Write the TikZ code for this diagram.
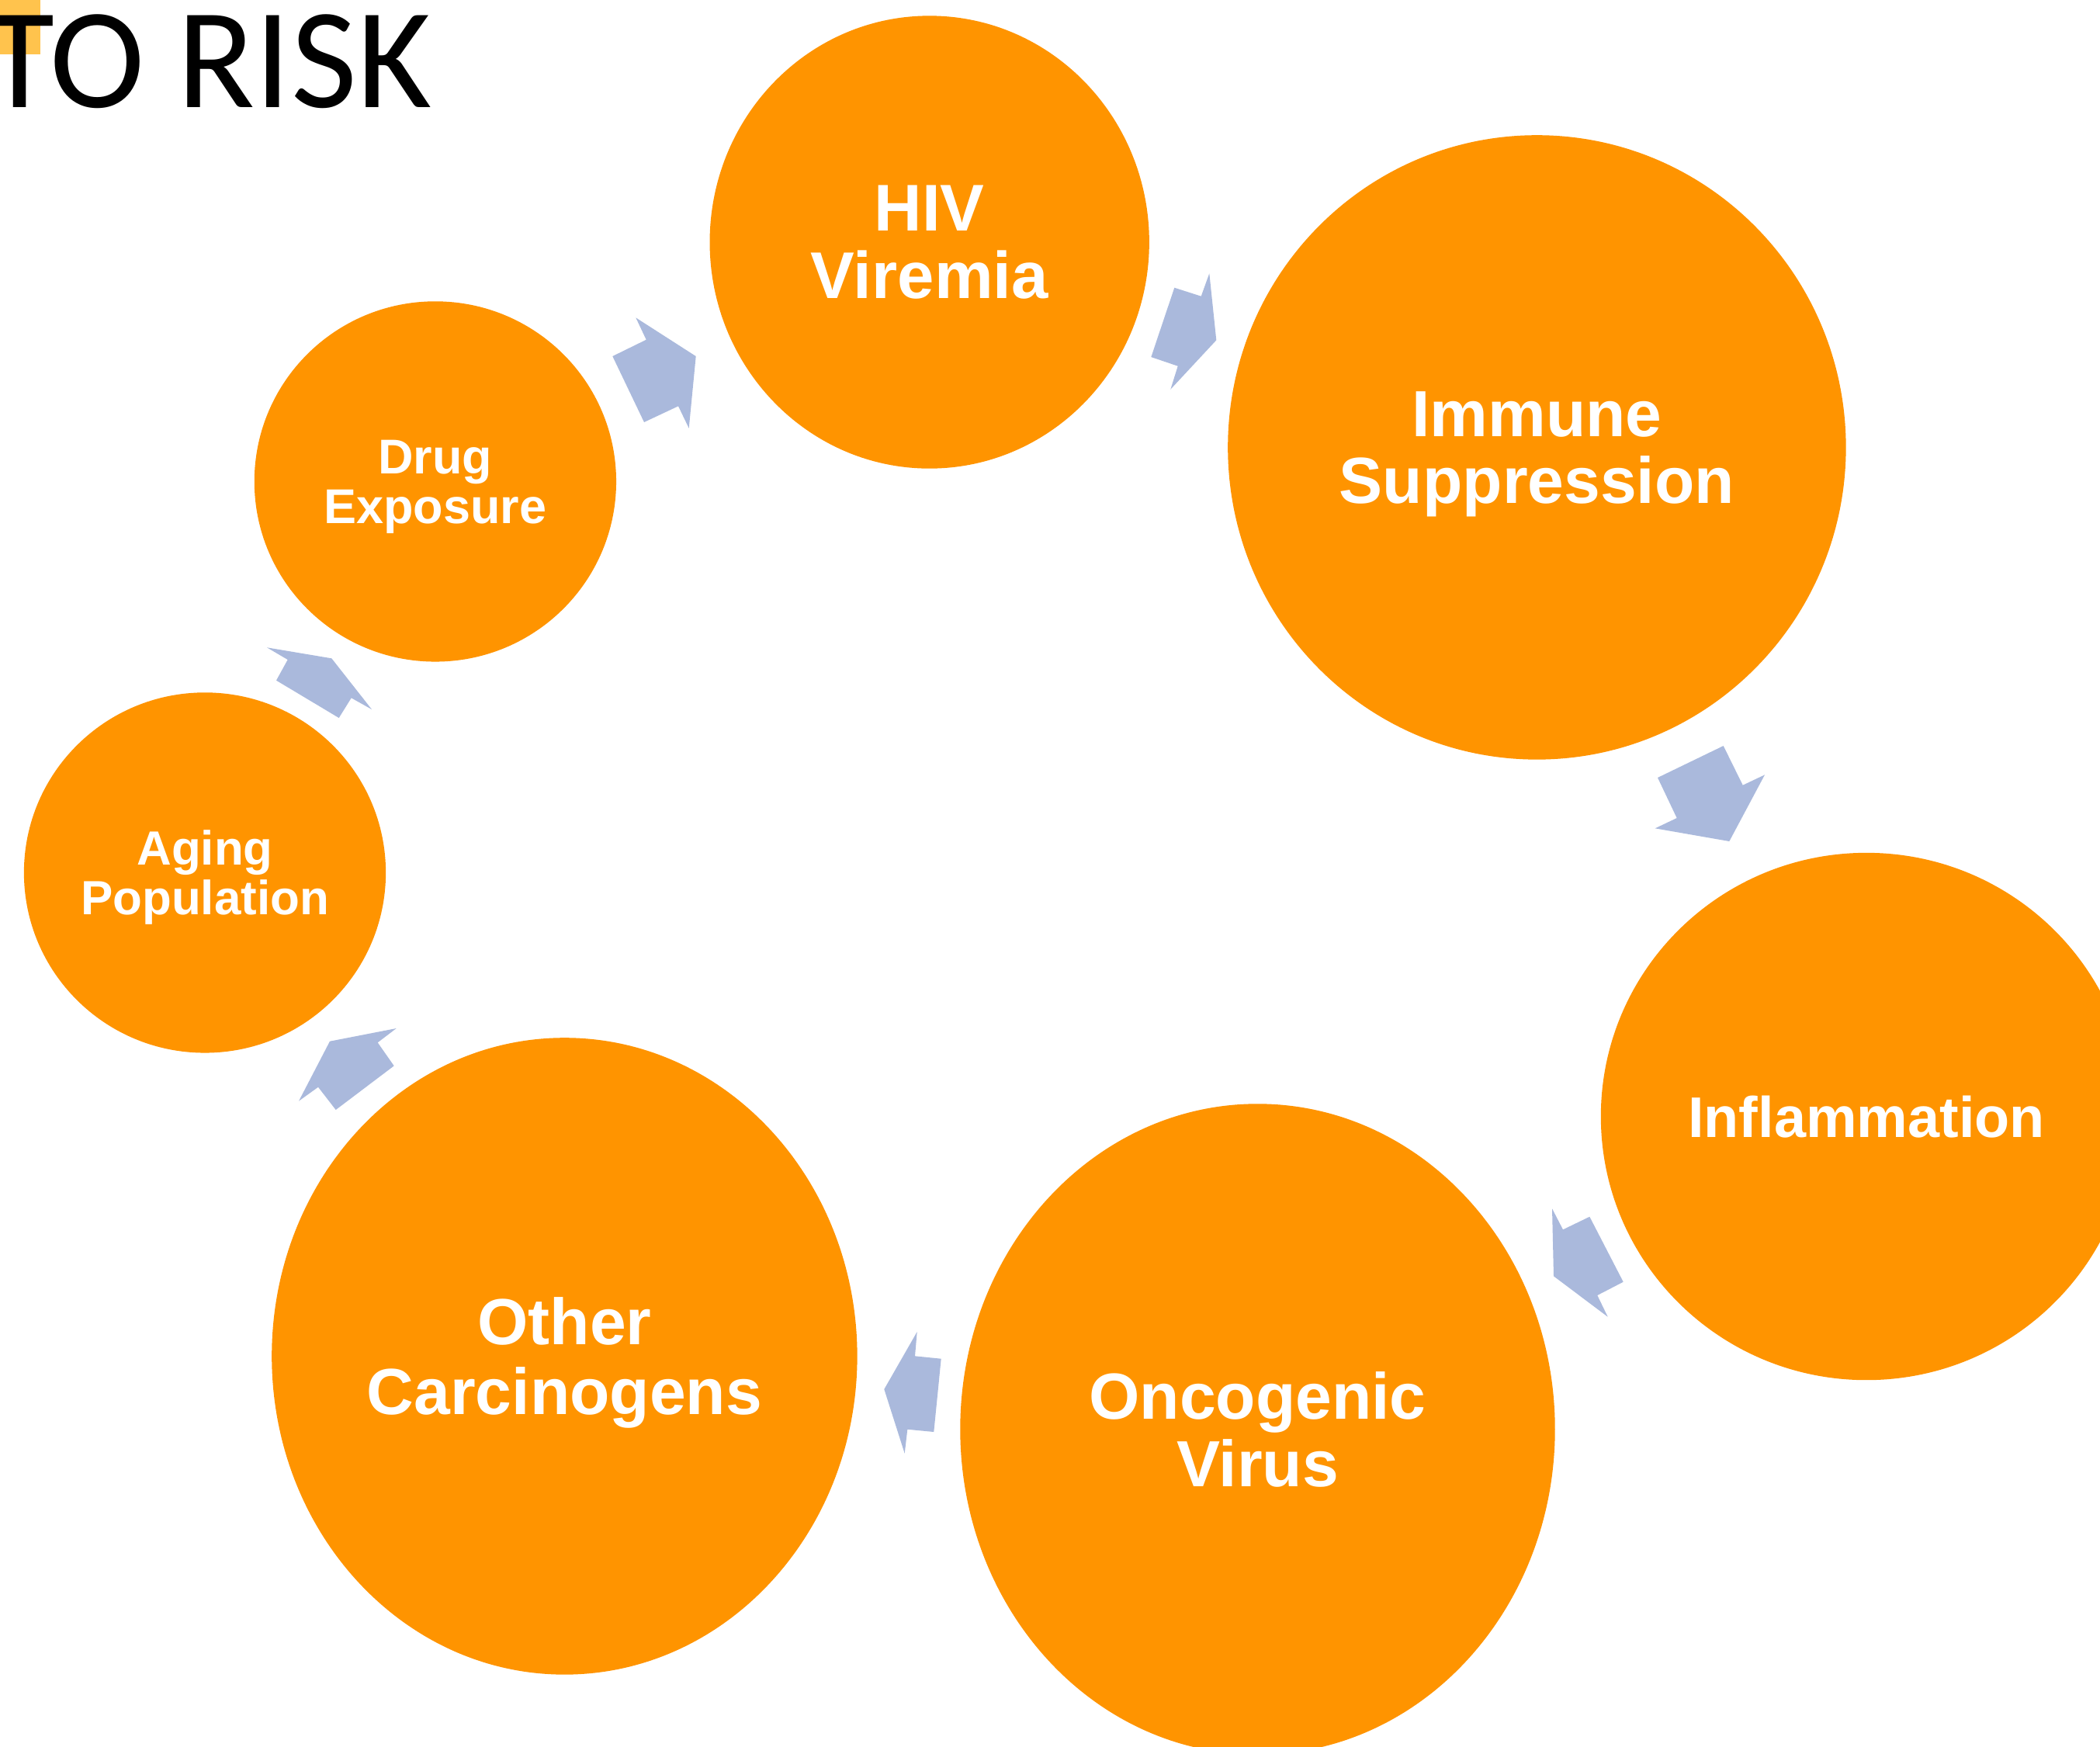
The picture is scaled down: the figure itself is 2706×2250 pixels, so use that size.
\documentclass[tikz,border=0pt]{standalone}
\usepackage{fontspec}
\setmainfont{Liberation Sans}
\newfontfamily\titlefont{Carlito}
\usetikzlibrary{shapes.geometric}

\definecolor{cycorange}{HTML}{FF9400}
\definecolor{cycarrow}{HTML}{AAB9DC}
\definecolor{tabyellow}{HTML}{FFC34D}

\tikzset{
  stage/.style={ellipse, fill=cycorange, draw=none, inner sep=0pt,
                text=white, align=center, text depth=0pt},
  flow/.style={fill=cycarrow, draw=none},
}

\begin{document}
\begin{tikzpicture}[x=0.01cm, y=-0.01cm]
  \useasboundingbox (0,0) rectangle (2706,2250);
  \clip (0,0) rectangle (2706,2250);

  % title fragment
  \fill[tabyellow] (0,0) rectangle (52,70);
  \node[anchor=base east, inner sep=0pt,
        font=\titlefont\fontsize{52.5pt}{58pt}\selectfont] (title)
        at (557,138) {TO RISK};

  % cycle stages
  \node[stage, minimum width=5.66cm, minimum height=5.83cm,
        font=\fontsize{24.2pt}{24.8pt}\selectfont\bfseries]
        (hiv) at (1197.7,312) {HIV\\Viremia};
  \node[stage, minimum width=7.96cm, minimum height=8.04cm,
        font=\fontsize{23.9pt}{24.6pt}\selectfont\bfseries]
        (immune) at (1980.4,576.4) {Immune\\Suppression};
  \node[stage, minimum width=6.84cm, minimum height=6.79cm,
        font=\fontsize{21pt}{24pt}\selectfont\bfseries]
        (inflam) at (2405,1438.5) {Inflammation};
  \node[stage, minimum width=7.66cm, minimum height=8.38cm,
        font=\fontsize{23.9pt}{24.6pt}\selectfont\bfseries]
        (onco) at (1620.5,1841.5) {Oncogenic\\Virus};
  \node[stage, minimum width=7.54cm, minimum height=8.2cm,
        font=\fontsize{23.9pt}{25.6pt}\selectfont\bfseries]
        (other) at (727.4,1747.4) {Other\\Carcinogens};
  \node[stage, minimum width=4.66cm, minimum height=4.64cm,
        font=\fontsize{17.6pt}{18.2pt}\selectfont\bfseries]
        (aging) at (264,1124.4) {Aging\\Population};
  \node[stage, minimum width=4.66cm, minimum height=4.64cm,
        font=\fontsize{17.9pt}{18.2pt}\selectfont\bfseries]
        (drug) at (560.9,620.4) {Drug\\Exposure};

  % block arrows between stages
  \fill[flow] (789.3,459) -- (832.7,437.7) -- (819.3,409.3) -- (896.7,459)
      -- (887.7,551.7) -- (874,523.3) -- (830,544) -- cycle;
  \fill[flow] (1513.3,370.7) -- (1547.7,381.7) -- (1558.3,352.3) -- (1567.3,438.3)
      -- (1508.3,501.7) -- (1517.7,471.7) -- (1483.3,460) -- cycle;
  \fill[flow] (2136,1002) -- (2220.7,961) -- (2245.7,1011.7) -- (2274,998.3)
      -- (2228.3,1084) -- (2132.7,1067.3) -- (2160.7,1054) -- cycle;
  \fill[flow] (2014,1584.3) -- (2048.3,1567.7) -- (2091.7,1651.7) -- (2058.3,1669)
      -- (2071.7,1696.7) -- (2002,1644.3) -- (2000,1557.3) -- cycle;
  \fill[flow] (1179,1747.3) -- (1212.7,1750.7) -- (1203.3,1845) -- (1169.3,1841.7)
      -- (1165.7,1872.7) -- (1139.3,1790) -- (1181.7,1716) -- cycle;
  \fill[flow] (486.7,1343.3) -- (507.7,1373.3) -- (432.7,1430) -- (410,1400.7)
      -- (385,1418.7) -- (425,1341.7) -- (510.7,1325) -- cycle;
  \fill[flow] (370.7,850) -- (356,876.7) -- (436.7,925) -- (452.7,899.3)
      -- (479,914) -- (427.3,848.3) -- (344,834.3) -- cycle;
\end{tikzpicture}
\end{document}
